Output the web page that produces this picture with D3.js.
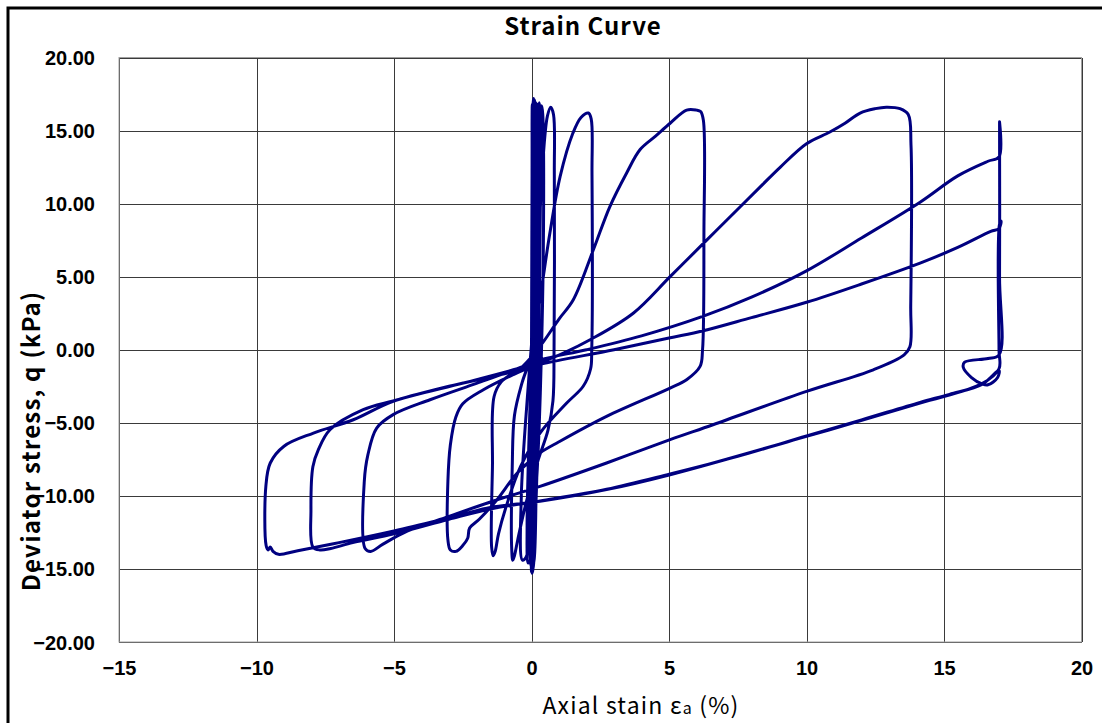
<!DOCTYPE html>
<html lang="en">
<head>
  <meta charset="UTF-8">
  <title>Strain Curve</title>
  <style>
    body { margin: 0; background: #fff; }
    svg { display: block; }
    .tick text { font-family: "Liberation Sans", Arial, sans-serif; font-weight: bold; font-size: 20px; fill: #000; }
    .grid line { stroke: #3a3a3a; stroke-width: 1; shape-rendering: crispEdges; }
  </style>
</head>
<body>
<div id="chart"></div>
<script src="https://d3js.org/d3.v7.min.js"></script>
<script>
  // tick values
  const xTicks = [-15, -10, -5, 0, 5, 10, 15, 20];
  const yTicks = [-20, -15, -10, -5, 0, 5, 10, 15, 20];

  // strain (%) , deviator stress q (kPa), in test order
  const smallCycles = [
    [0, 0], [0.02, 12], [0.03, 16.8], [0.05, 16.2], [0.04, 5], [0.02, -14.6], [0.0, -15.2], [-0.01, -13],
    [0.03, 8], [0.06, 16.9], [0.08, 17.2], [0.09, 15], [0.06, -14.9], [0.02, -15.3], [0.01, -12],
    [0.07, 12], [0.11, 17.1], [0.13, 16.8], [0.13, 13], [0.08, -14.6], [0.04, -15.1], [0.03, -11],
    [0.11, 13], [0.16, 16.9], [0.18, 16.5], [0.18, 11], [0.1, -14.3], [0.03, -14.9], [0.02, -9],
    [0.16, 14], [0.22, 16.8], [0.25, 16.3], [0.24, 8], [0.08, -14], [-0.02, -14.8], [-0.04, -9],
    [0.2, 14.5], [0.28, 16.9], [0.31, 16.4], [0.3, 6], [0.05, -13.6], [-0.12, -14.6], [-0.16, -12],
    [0.05, 2], [0.3, 14], [0.37, 16.7], [0.41, 16.1], [0.4, 3], [0.1, -11], [-0.2, -14.2], [-0.33, -14.4],
    [-0.37, -10], [-0.1, -2]
  ];
  const loop08 = [
    [0.2, 5], [0.4, 12.5], [0.58, 16], [0.7, 16.6], [0.8, 16.1], [0.83, 12], [0.82, 0], [0.78, -3.5],
    [0.6, -5.5], [0.25, -7.5], [-0.2, -10.5], [-0.5, -13], [-0.62, -14.1], [-0.68, -14.4], [-0.72, -13.6],
    [-0.7, -8], [-0.62, -4.5], [-0.35, -2.3], [0.0, -0.3]
  ];
  const loop22 = [
    [0.35, 4], [0.67, 8], [1.04, 11.85], [1.5, 14.8], [1.8, 15.9], [2.07, 16.2], [2.17, 15.8], [2.2, 12],
    [2.19, 0], [2.15, -1.3], [1.88, -2.5], [1.28, -3.65], [0.31, -5.7], [-0.4, -8], [-0.9, -10.6],
    [-1.2, -12.6], [-1.32, -13.8], [-1.39, -14.1], [-1.45, -13.5], [-1.42, -8], [-1.36, -3.2],
    [-1.1, -2.2], [-0.3, -1.1]
  ];
  const loop63 = [
    [0.31, 0.23], [1.0, 2.1], [1.52, 3.42], [2.25, 6.84], [2.85, 9.8], [3.46, 12.1], [3.95, 13.7],
    [4.5, 14.6], [5.04, 15.5], [5.64, 16.4], [6.0, 16.4], [6.15, 16.3], [6.25, 15.7], [6.27, 8], [6.22, 0],
    [6.13, -1.14], [5.64, -2.05], [5.04, -2.62], [2.73, -4.56], [1.0, -6.3], [0.31, -7.06], [-0.5, -8.4],
    [-1.27, -10.3], [-1.9, -11.6], [-2.25, -12.2], [-2.32, -12.9], [-2.5, -13.4], [-2.75, -13.8],
    [-2.95, -13.7], [-3.04, -13.0], [-3.04, -9], [-2.95, -6.5], [-2.75, -4.6], [-2.5, -3.7],
    [-1.75, -2.74], [-0.66, -1.7]
  ];
  const loop138 = [
    [0.31, -0.9], [1.2, -0.2], [2.13, 0.68], [3.7, 2.5], [5.04, 5.0], [6.37, 7.5], [7.6, 9.8], [8.4, 11.3],
    [9.05, 12.5], [10.0, 14.1], [10.85, 14.9], [11.4, 15.5], [11.95, 16.2], [12.5, 16.5], [12.9, 16.6],
    [13.4, 16.5], [13.7, 16.1], [13.8, 14], [13.79, 3], [13.76, 0.2], [13.55, -0.35], [12.43, -1.37],
    [10, -2.85], [6.6, -5.13], [5.04, -6.15], [2.73, -7.75], [0.31, -9.35], [-1.3, -10.3], [-3.0, -11.4],
    [-4.5, -12.4], [-5.4, -13.3], [-5.85, -13.8], [-6.05, -13.6], [-6.08, -9], [-5.95, -7.2],
    [-5.63, -5.36], [-5.03, -4.44], [-3.69, -3.42], [-2.0, -2.3], [-0.66, -1.4]
  ];
  const cycleA = [
    [0.31, -0.7], [2.0, 0.0], [4.0, 0.95], [6.25, 2.3], [8.0, 3.6], [10, 5.4], [12, 7.65], [14.13, 10.1],
    [15.5, 11.9], [16.6, 12.9], [17, 13.2], [17.02, 15.6], [17.02, 5], [17.0, -0.35], [16.6, -0.6],
    [15.75, -0.85], [15.7, -1.2], [16.0, -1.9], [16.4, -2.35], [16.6, -2.4], [16.95, -1.9], [17.0, -1.4],
    [16.4, -2.35], [15.2, -3.05], [14.13, -3.6], [12, -4.8], [10, -5.9], [7.5, -7.3], [5.04, -8.5],
    [2.73, -9.55], [0.31, -10.35], [-1.5, -10.9], [-3.0, -11.6], [-5.0, -12.6], [-6.5, -13.2],
    [-7.3, -13.6], [-7.7, -13.7], [-7.95, -13.5], [-8.02, -11], [-7.95, -8], [-7.75, -6.84],
    [-7.33, -5.47], [-6.12, -4.1], [-5.03, -3.5], [-3, -2.5], [-0.66, -1.5]
  ];
  const cycleB = [
    [0.31, -1.0], [3.0, 0.0], [5.0, 0.8], [6.25, 1.3], [8, 2.2], [10, 3.25], [12, 4.5], [14.13, 5.93],
    [15.5, 7.0], [16.7, 8.1], [17.0, 8.3], [17.08, 8.8], [17.02, 8.6], [17.0, 0], [17.0, -1.3],
    [16.4, -2.3], [14.13, -3.65], [10, -5.93], [5.04, -8.55], [2.73, -9.57], [0.31, -10.37],
    [-1.5, -10.8], [-3.0, -11.5], [-5.0, -12.4], [-7.0, -13.2], [-8.5, -13.75], [-9.2, -14.0],
    [-9.4, -13.8], [-9.5, -13.5], [-9.58, -13.7], [-9.65, -13.4], [-9.66, -9.35], [-9.5, -7.75],
    [-9.0, -6.6], [-7.93, -5.7], [-6.48, -4.79], [-5.03, -3.53], [-2.48, -2.28], [-0.66, -1.37], [0.2, -0.9]
  ];

  const W = 1102, H = 723;
  const plot = { left: 119, right: 1081.5, top: 57.5, bottom: 642 };

  const svg = d3.select("#chart").append("svg")
    .attr("width", W).attr("height", H);

  // outer frame (right and bottom edges fall outside the picture)
  svg.append("rect")
    .attr("x", 8).attr("y", 8).attr("width", W + 20).attr("height", H + 20)
    .attr("fill", "#fff").attr("stroke", "#000").attr("stroke-width", 3);

  const x = d3.scaleLinear().domain([-15, 20]).range([plot.left, plot.right]);
  const y = d3.scaleLinear().domain([-20, 20]).range([plot.bottom, plot.top]);

  // grid + tick labels via axes
  const xAxis = svg.append("g")
    .attr("class", "grid")
    .attr("transform", "translate(0," + plot.bottom + ")")
    .call(d3.axisBottom(x).tickValues(xTicks).tickFormat(d3.format("d"))
      .tickSize(-(plot.bottom - plot.top)).tickPadding(0));
  xAxis.select(".domain").remove();
  xAxis.selectAll("text").attr("y", 26).attr("dy", "0.35em");

  const yAxis = svg.append("g")
    .attr("class", "grid")
    .attr("transform", "translate(" + plot.left + ",0)")
    .call(d3.axisLeft(y).tickValues(yTicks).tickFormat(d3.format(".2f"))
      .tickSize(-(plot.right - plot.left)).tickPadding(0));
  yAxis.select(".domain").remove();
  yAxis.selectAll("text").attr("x", -24).attr("dy", "0.35em");

  // plot border
  svg.append("rect")
    .attr("x", plot.left).attr("y", plot.top)
    .attr("width", plot.right - plot.left).attr("height", plot.bottom - plot.top)
    .attr("fill", "none").attr("stroke", "#a0a0a0").attr("stroke-width", 1);

  // the curve
  const path = [].concat(smallCycles, loop08, loop22, loop63, loop138, cycleA, cycleB);
  const line = d3.line()
    .x(d => x(d[0]))
    .y(d => y(d[1]))
    .curve(d3.curveCatmullRom.alpha(0.5));

  svg.append("path")
    .datum(path)
    .attr("d", line)
    .attr("fill", "none")
    .attr("stroke", "#000080")
    .attr("stroke-width", 3)
    .attr("stroke-linejoin", "round");

  // titles
  const font = "'Noto Sans CJK JP', 'Noto Sans', sans-serif";
  svg.append("text")
    .attr("x", 583).attr("y", 27).attr("dy", "0.35em")
    .attr("text-anchor", "middle")
    .style("font-family", font)
    .style("font-weight", "bold").style("font-size", "24px")
    .style("letter-spacing", "1px")
    .text("Strain Curve");

  svg.append("text")
    .attr("transform", "translate(32,441) rotate(-90)")
    .attr("dy", "0.35em")
    .attr("text-anchor", "middle")
    .style("font-family", font)
    .style("font-weight", "bold").style("font-size", "24px")
    .style("letter-spacing", "1.2px")
    .text("Deviator stress, q (kPa)");

  const xl = svg.append("text")
    .attr("x", 641).attr("y", 706).attr("dy", "0.35em")
    .attr("text-anchor", "middle")
    .style("font-family", font)
    .style("font-size", "23px")
    .style("letter-spacing", "1.2px");
  xl.append("tspan").text("Axial stain ε");
  xl.append("tspan").style("font-size", "16px").text("a");
  xl.append("tspan").text(" (%)");
</script>
</body>
</html>
